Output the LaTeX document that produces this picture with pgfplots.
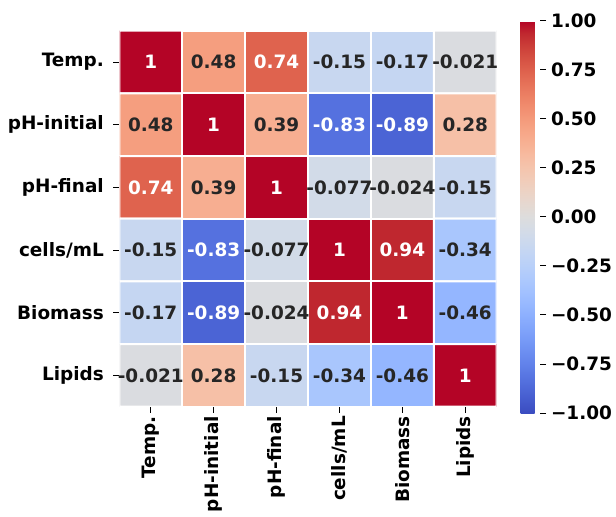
\documentclass[border=0pt]{standalone}
\usepackage{fontspec}
\setmainfont{DejaVu Sans}
\usepackage{pgfplots}
\pgfplotsset{compat=1.18}
\definecolor{annodark}{HTML}{262626}
\newcommand{\lblfont}{\bfseries\fontsize{18.5}{22}\selectfont}
\pgfplotsset{colormap={coolwarm}{
rgb(0pt)=(0.2298,0.2987,0.7537)
rgb(1pt)=(0.2662,0.3531,0.8015)
rgb(2pt)=(0.3039,0.4065,0.8450)
rgb(3pt)=(0.3428,0.4588,0.8837)
rgb(4pt)=(0.3830,0.5094,0.9174)
rgb(5pt)=(0.4244,0.5581,0.9456)
rgb(6pt)=(0.4667,0.6046,0.9682)
rgb(7pt)=(0.5096,0.6483,0.9848)
rgb(8pt)=(0.5530,0.6889,0.9954)
rgb(9pt)=(0.5963,0.7261,0.9998)
rgb(10pt)=(0.6392,0.7596,0.9982)
rgb(11pt)=(0.6813,0.7890,0.9904)
rgb(12pt)=(0.7222,0.8140,0.9766)
rgb(13pt)=(0.7615,0.8343,0.9569)
rgb(14pt)=(0.7987,0.8498,0.9317)
rgb(15pt)=(0.8335,0.8602,0.9011)
rgb(16pt)=(0.8654,0.8654,0.8654)
rgb(17pt)=(0.8978,0.8489,0.8209)
rgb(18pt)=(0.9241,0.8274,0.7745)
rgb(19pt)=(0.9445,0.8009,0.7267)
rgb(20pt)=(0.9589,0.7698,0.6780)
rgb(21pt)=(0.9673,0.7341,0.6288)
rgb(22pt)=(0.9700,0.6943,0.5794)
rgb(23pt)=(0.9668,0.6504,0.5303)
rgb(24pt)=(0.9580,0.6028,0.4818)
rgb(25pt)=(0.9437,0.5518,0.4342)
rgb(26pt)=(0.9239,0.4973,0.3880)
rgb(27pt)=(0.8990,0.4396,0.3432)
rgb(28pt)=(0.8692,0.3783,0.3003)
rgb(29pt)=(0.8346,0.3129,0.2593)
rgb(30pt)=(0.7956,0.2413,0.2205)
rgb(31pt)=(0.7525,0.1572,0.1841)
rgb(32pt)=(0.7057,0.0156,0.1502)
}}
\pgfplotstableread{
x y c
0 0 1
1 0 0.48
2 0 0.74
3 0 -0.15
4 0 -0.17
5 0 -0.021
0 1 0.48
1 1 1
2 1 0.39
3 1 -0.83
4 1 -0.89
5 1 0.28
0 2 0.74
1 2 0.39
2 2 1
3 2 -0.077
4 2 -0.024
5 2 -0.15
0 3 -0.15
1 3 -0.83
2 3 -0.077
3 3 1
4 3 0.94
5 3 -0.34
0 4 -0.17
1 4 -0.89
2 4 -0.024
3 4 0.94
4 4 1
5 4 -0.46
0 5 -0.021
1 5 0.28
2 5 -0.15
3 5 -0.34
4 5 -0.46
5 5 1
}\corrdata
\pgfplotstableread{
x y lab
0 0 1
2 0 0.74
1 1 1
3 1 -0.83
4 1 -0.89
0 2 0.74
2 2 1
1 3 -0.83
3 3 1
4 3 0.94
1 4 -0.89
3 4 0.94
4 4 1
5 5 1
}\whitelabels
\pgfplotstableread{
x y lab
1 0 0.48
3 0 -0.15
4 0 -0.17
5 0 -0.021
0 1 0.48
2 1 0.39
5 1 0.28
1 2 0.39
3 2 -0.077
4 2 -0.024
5 2 -0.15
0 3 -0.15
2 3 -0.077
5 3 -0.34
0 4 -0.17
2 4 -0.024
5 4 -0.46
0 5 -0.021
1 5 0.28
2 5 -0.15
3 5 -0.34
4 5 -0.46
}\darklabels
\begin{document}
\begin{tikzpicture}[font=\lblfont]
\begin{axis}[
  at={(0,0)}, anchor=south west,
  scale only axis,
  width=377.4bp, height=376bp,
  xmin=-0.5, xmax=5.5, ymin=-0.5, ymax=5.5,
  y dir=reverse,
  axis line style={draw=none},
  xtick={0,...,5}, ytick={0,...,5},
  xticklabels={Temp.,pH-initial,pH-final,cells/mL,Biomass,Lipids},
  yticklabels={Temp.,pH-initial,pH-final,cells/mL,Biomass,Lipids},
  xtick pos=lower, ytick pos=left,
  tick align=outside,
  major tick length=6bp,
  tick style={black, line width=1bp},
  xticklabel style={rotate=90, anchor=east, font=\lblfont},
  yticklabel style={font=\lblfont, xshift=-6bp},
  colormap name=coolwarm,
  point meta min=-1, point meta max=1,
  colorbar,
  colorbar style={
    at={(parent axis.north east)}, anchor=north west,
    xshift=15.3bp, yshift=9.7bp,
    scale only axis,
    width=19.5bp, height=392bp,
    ytick={-1,-0.75,-0.5,-0.25,0,0.25,0.5,0.75,1},
    yticklabels={−1.00,−0.75,−0.50,−0.25,0.00,0.25,0.50,0.75,1.00},
    yticklabel style={font=\lblfont, xshift=1.5bp},
    ytick pos=right, yticklabel pos=right,
    tick align=outside, major tick length=6bp,
    tick style={black, line width=1bp},
    axis line style={draw=none},
  },
]
\addplot[matrix plot*, mesh/cols=6, point meta=explicit, draw=white, line width=2bp]
  table[x=x, y=y, meta=c] {\corrdata};
\addplot[draw=none, mark=none, nodes near coords, point meta=explicit symbolic,
  nodes near coords style={anchor=center, text=white, font=\lblfont}]
  table[x=x, y=y, meta=lab] {\whitelabels};
\addplot[draw=none, mark=none, nodes near coords, point meta=explicit symbolic,
  nodes near coords style={anchor=center, text=annodark, font=\lblfont}]
  table[x=x, y=y, meta=lab] {\darklabels};
\end{axis}
\pgfresetboundingbox
\path[use as bounding box] (-119.3bp,-110.3bp) rectangle (496.7bp,406.7bp);
\end{tikzpicture}
\end{document}
